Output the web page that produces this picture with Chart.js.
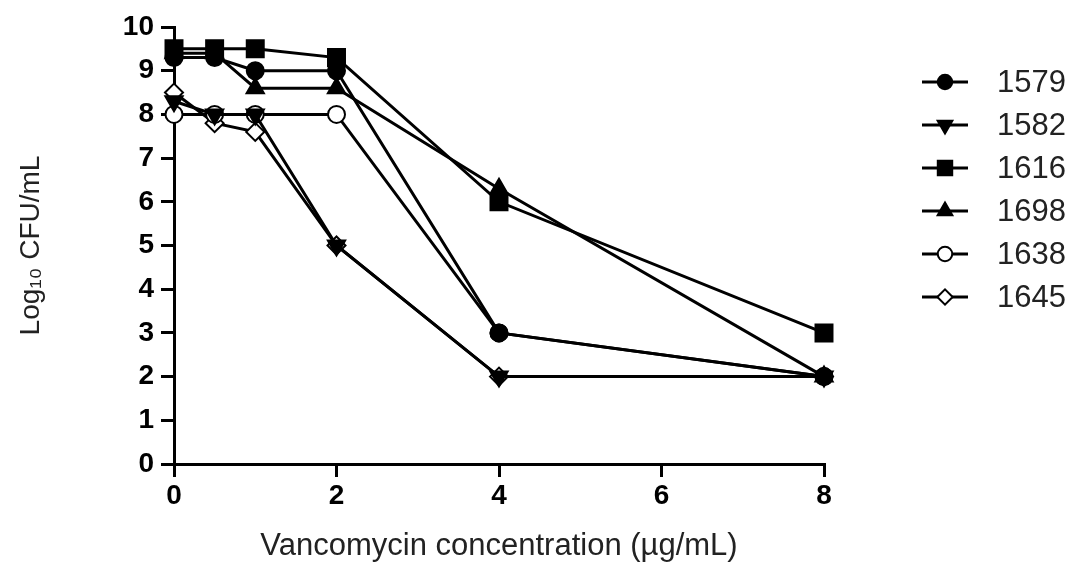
<!DOCTYPE html>
<html>
<head>
<meta charset="utf-8">
<script src="https://cdn.jsdelivr.net/npm/chart.js@4.4.1/dist/chart.umd.min.js"></script>
<style>
  html, body { margin: 0; padding: 0; background: #fff; }
  #wrap { width: 1088px; height: 567px; }
</style>
</head>
<body>
<div id="wrap"><canvas id="ChartCanvas"></canvas></div>
<script>
// Vancomycin concentrations (x values, ug/mL)
const concentrations = [0, 0.5, 1, 2, 4, 8];

// Log10 CFU/mL per strain
const strain1579 = [9.3, 9.3, 9.0, 9.0, 3.0, 2.0];
const strain1582 = [8.3, 8.0, 8.0, 5.0, 2.0, 2.0];
const strain1616 = [9.5, 9.5, 9.5, 9.3, 6.0, 3.0];
const strain1698 = [9.4, 9.4, 8.6, 8.6, 6.3, 2.0];
const strain1638 = [8.0, 8.0, 8.0, 8.0, 3.0, 2.0];
const strain1645 = [8.5, 7.8, 7.6, 5.0, 2.0, 2.0];

const xTicks = [0, 2, 4, 6, 8];
const yTicks = [0, 1, 2, 3, 4, 5, 6, 7, 8, 9, 10];

Initialize();

function Initialize()
{
    function toPoints(values)
    {
        return concentrations.map((x, i) => ({x: x, y: values[i]}));
    }

    function makeDataset(label, values, style, radius, fill, rotation)
    {
        return {
            label: label,
            data: toPoints(values),
            borderColor: '#000',
            borderWidth: 3,
            pointStyle: style,
            pointRadius: radius,
            pointRotation: rotation || 0,
            pointBackgroundColor: fill,
            pointBorderColor: '#000',
            pointBorderWidth: 2,
            pointHoverRadius: radius,
            tension: 0,
            clip: false
        };
    }

    // Legend drawn on the right: line with marker, then the strain name
    const sideLegend = {
        id: 'sideLegend',
        afterDraw(chart)
        {
            const ctx = chart.ctx;
            ctx.save();
            chart.data.datasets.forEach((ds, i) => {
                const y = 82 + i * 43;
                ctx.strokeStyle = '#000';
                ctx.lineWidth = 3;
                ctx.beginPath();
                ctx.moveTo(922, y);
                ctx.lineTo(968, y);
                ctx.stroke();

                ctx.fillStyle = ds.pointBackgroundColor;
                ctx.lineWidth = 2;
                Chart.helpers.drawPoint(ctx, {
                    pointStyle: ds.pointStyle,
                    radius: ds.pointRadius * 0.85,
                    rotation: ds.pointRotation,
                    borderWidth: 2
                }, 945, y);

                ctx.fillStyle = '#222';
                ctx.font = '31px "Liberation Sans", Arial, sans-serif';
                ctx.textAlign = 'left';
                ctx.textBaseline = 'middle';
                ctx.fillText(ds.label, 997, y + 1);
            });
            ctx.restore();
        }
    };

    const canvas = document.getElementById('ChartCanvas');
    const ctx = canvas.getContext('2d');
    const chart = new Chart(ctx, {
        type: 'line',
        data: {
            datasets: [
                makeDataset('1579', strain1579, 'circle', 8.5, '#000'),
                makeDataset('1582', strain1582, 'triangle', 10, '#000', 180),
                makeDataset('1616', strain1616, 'rect', 12, '#000'),
                makeDataset('1698', strain1698, 'triangle', 10, '#000'),
                makeDataset('1638', strain1638, 'circle', 8.5, '#fff'),
                makeDataset('1645', strain1645, 'rectRot', 9, '#fff')
            ]
        },
        options: {
            responsive: true,
            maintainAspectRatio: false,
            animation: false,
            events: [],
            layout: {
                padding: {top: 27, right: 264, left: 0, bottom: 0}
            },
            plugins: {
                legend: {display: false},
                tooltip: {enabled: false}
            },
            scales: {
                x: {
                    type: 'linear',
                    min: 0,
                    max: 8,
                    afterFit: (scale) => { scale.height = 103; },
                    afterBuildTicks: (scale) => { scale.ticks = xTicks.map(v => ({value: v})); },
                    grid: {drawOnChartArea: false, drawTicks: true, tickLength: 13, color: '#000', lineWidth: 3},
                    border: {color: '#000', width: 3},
                    ticks: {
                        color: '#000',
                        padding: 2,
                        maxRotation: 0,
                        font: {family: '"Liberation Sans", Arial, sans-serif', size: 28, weight: 'bold'}
                    },
                    title: {
                        display: true,
                        text: 'Vancomycin concentration (\u00b5g/mL)',
                        color: '#222',
                        padding: {top: 0, bottom: 2},
                        font: {family: '"Liberation Sans", Arial, sans-serif', size: 31}
                    }
                },
                y: {
                    min: 0,
                    max: 10,
                    afterFit: (scale) => { scale.width = 174; },
                    afterBuildTicks: (scale) => { scale.ticks = yTicks.map(v => ({value: v})); },
                    grid: {drawOnChartArea: false, drawTicks: true, tickLength: 13, color: '#000', lineWidth: 3},
                    border: {color: '#000', width: 3},
                    ticks: {
                        color: '#000',
                        padding: 7,
                        font: {family: '"Liberation Sans", Arial, sans-serif', size: 28, weight: 'bold'}
                    },
                    title: {
                        display: true,
                        text: 'Log\u2081\u2080 CFU/mL',
                        color: '#222',
                        padding: {top: 14, bottom: 0},
                        font: {family: '"Liberation Sans", Arial, sans-serif', size: 28}
                    }
                }
            }
        },
        plugins: [sideLegend]
    });
}
</script>
</body>
</html>
